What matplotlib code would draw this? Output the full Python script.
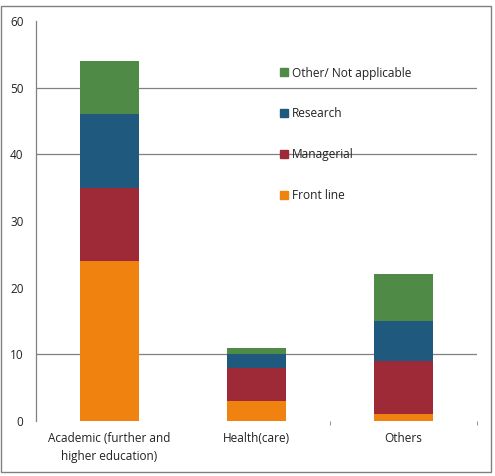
import matplotlib.pyplot as plt
from matplotlib.patches import Rectangle, Patch

# Data
categories = ['Academic (further and\nhigher education)', 'Health(care)', 'Others']
series_names = ['Front line', 'Managerial', 'Research', 'Other/ Not applicable']
front_line = [24, 3, 1]
managerial = [11, 5, 8]
research = [11, 2, 6]
other_na = [8, 1, 7]
colors = ['#F0830F', '#9E2A38', '#1F5A7E', '#4F8A46']
grid_levels = [10, 40, 50]

plt.rcParams['font.family'] = ['Open Sans', 'DejaVu Sans']

fig = plt.figure(figsize=(4.95, 4.76), dpi=100)
ax = fig.add_axes([0.0727, 0.1155, 0.8909, 0.8404])

# Grid lines (only those visible in the original)
for g in grid_levels:
    ax.axhline(g, color='#808080', linewidth=0.9, zorder=0)

x = range(len(categories))
bottom = [0, 0, 0]
for name, vals, c in zip(series_names, [front_line, managerial, research, other_na], colors):
    ax.bar(x, vals, width=0.4, bottom=bottom, color=c, label=name, zorder=2)
    bottom = [b + v for b, v in zip(bottom, vals)]

ax.set_xlim(-0.5, 2.5)
ax.set_ylim(0, 60)
ax.set_yticks(range(0, 61, 10))
ax.set_xticks(list(x))
ax.set_xticklabels(categories, fontsize=8.5, color='#222222', linespacing=1.5)
ax.set_xticks([1.5, 2.5], minor=True)
ax.tick_params(axis='x', which='major', length=0, pad=8)
ax.tick_params(axis='x', which='minor', length=3, color='#808080')
ax.tick_params(axis='y', length=0, pad=9, labelsize=8.5, labelcolor='#222222')

for s in ['top', 'right', 'bottom']:
    ax.spines[s].set_visible(False)
ax.spines['left'].set_color('#808080')
ax.spines['left'].set_linewidth(0.9)

handles = [Patch(color=c, label=n) for n, c in zip(series_names, colors)][::-1]
leg = ax.legend(handles=handles, loc='upper left', bbox_to_anchor=(0.53, 0.913),
                frameon=False, fontsize=8.6, handlelength=0.65, handleheight=0.65,
                handletextpad=0.3, labelspacing=2.33, labelcolor='#222222')
leg.set_zorder(1)

# Outer border
fig.patches.append(Rectangle((0.002, 0.008), 0.99, 0.98, transform=fig.transFigure,
                             fill=False, edgecolor='#808080', linewidth=1.0))

fig.savefig('out.png', dpi=100)
